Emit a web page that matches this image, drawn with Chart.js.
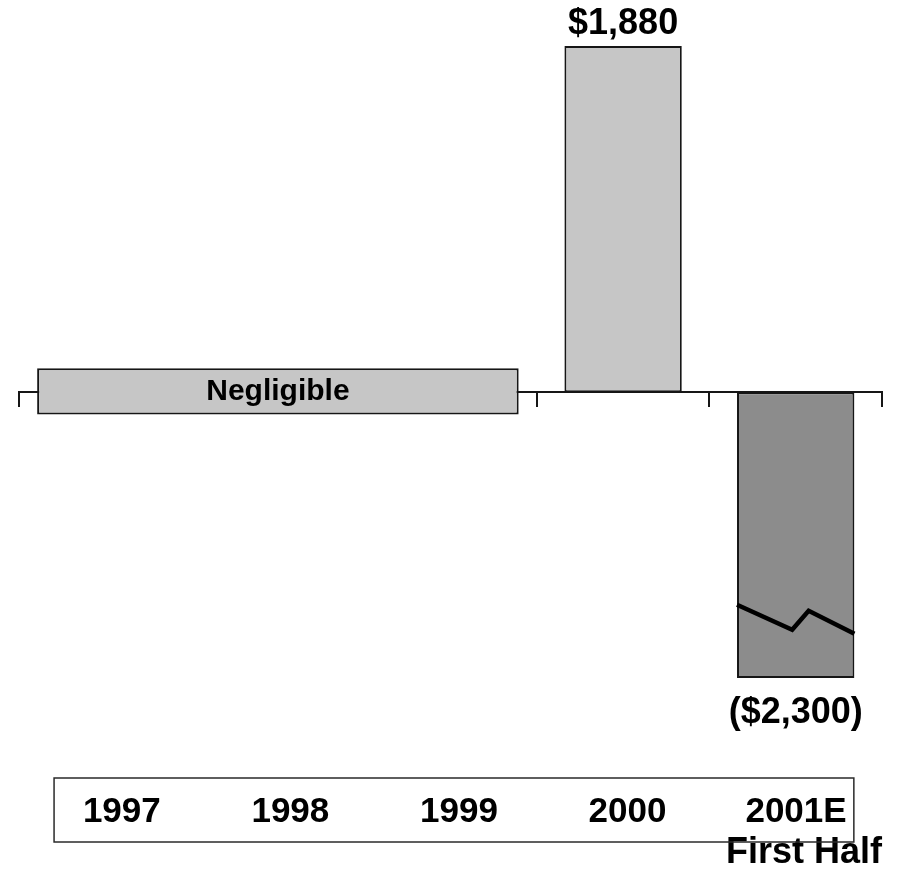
<!DOCTYPE html>
<html>
<head>
<meta charset="utf-8">
<script src="https://cdn.jsdelivr.net/npm/chart.js@4"></script>
<style>
  html, body { margin: 0; padding: 0; background: #fff; }
  canvas { display: block; }
</style>
</head>
<body>
<canvas id="chart" width="898" height="871"></canvas>
<script>
const categories = ['1997', '1998', '1999', '2000', '2001E'];
const netValues = [null, null, null, 1880, -2300];
const valueLabels = [null, null, null, '$1,880', '($2,300)'];
const negligibleRange = [null, [-120, 130], null, null, null]; // one box across 1997-1999
const negligibleText = 'Negligible';
const periodNote = 'First Half';

const FONT = 'Arial, "Liberation Sans", sans-serif';
const LIGHT = '#c6c6c6';
const DARK = '#8c8c8c';
const EDGE = '#161616';

// the value axis is broken below breakValue, the rest is squeezed
const breakValue = -1230;
const breakRatio = 0.3;

function squash(v) {
  if (v === null || v === undefined || isNaN(v)) return v;
  return v < breakValue ? breakValue + (v - breakValue) * breakRatio : v;
}
function unsquash(v) {
  return v < breakValue ? breakValue + (v - breakValue) / breakRatio : v;
}

class BrokenLinearScale extends Chart.LinearScale {
  getPixelForValue(value) {
    return super.getPixelForValue(squash(value));
  }
  getValueForPixel(pixel) {
    return unsquash(super.getValueForPixel(pixel));
  }
}
BrokenLinearScale.id = 'brokenLinear';
BrokenLinearScale.defaults = {};
Chart.register(BrokenLinearScale);

// texts on the bars, the scale break mark and the box round the years
const decorations = {
  id: 'decorations',
  afterDatasetsDraw(chart) {
    const ctx = chart.ctx;
    const yScale = chart.scales.y;
    ctx.save();
    ctx.fillStyle = '#000';
    ctx.textAlign = 'center';
    ctx.textBaseline = 'middle';

    chart.getDatasetMeta(0).data.forEach((bar, i) => {
      if (!negligibleRange[i]) return;
      ctx.font = 'bold 30px ' + FONT;
      ctx.fillText(negligibleText, bar.x, (bar.y + bar.base) / 2);
    });

    chart.getDatasetMeta(1).data.forEach((bar, i) => {
      const v = netValues[i];
      if (v === null) return;
      ctx.font = 'bold 36px ' + FONT;
      if (v >= 0) {
        ctx.fillText(valueLabels[i], bar.x, bar.y - 22);
      } else {
        ctx.fillText(valueLabels[i], bar.x, bar.y + 35);
        if (v < breakValue) {
          // zig-zag break line across the bar
          const yb = yScale.getPixelForValue(breakValue);
          const left = bar.x - bar.width / 2;
          const w = bar.width;
          ctx.beginPath();
          ctx.moveTo(left, yb - 14);
          ctx.lineTo(left + w * 0.47, yb + 11);
          ctx.lineTo(left + w * 0.61, yb - 8);
          ctx.lineTo(left + w, yb + 15);
          ctx.strokeStyle = '#000';
          ctx.lineWidth = 4.5;
          ctx.stroke();
        }
      }
    });
    ctx.restore();
  },
  afterDraw(chart) {
    const x2 = chart.scales.x2;
    const ctx = chart.ctx;
    const left = x2.getPixelForValue(-0.402);
    const right = x2.getPixelForValue(4.343);
    ctx.save();
    ctx.strokeStyle = '#2a2a2a';
    ctx.lineWidth = 1.5;
    ctx.strokeRect(left, x2.top - 17, right - left, 64);
    ctx.restore();
  }
};

const ctx = document.getElementById('chart').getContext('2d');

new Chart(ctx, {
  type: 'bar',
  data: {
    labels: categories,
    datasets: [
      {
        label: negligibleText,
        data: negligibleRange,
        backgroundColor: LIGHT,
        borderColor: EDGE,
        borderWidth: 2,
        borderSkipped: false,
        barPercentage: 2.79,
        categoryPercentage: 1,
        grouped: false
      },
      {
        label: 'Net',
        data: netValues,
        backgroundColor: (c) => (c.raw < 0 ? DARK : LIGHT),
        borderColor: EDGE,
        borderWidth: 2,
        borderSkipped: false,
        barPercentage: 0.68,
        categoryPercentage: 1,
        grouped: false
      }
    ]
  },
  options: {
    responsive: false,
    animation: false,
    devicePixelRatio: 1,
    layout: { padding: { left: 19, right: 16, top: 24, bottom: 0 } },
    plugins: {
      legend: { display: false },
      tooltip: { enabled: false }
    },
    scales: {
      x: {
        type: 'category',
        position: { y: 0 },
        ticks: { display: false },
        grid: {
          display: true,
          offset: true,
          drawOnChartArea: false,
          drawTicks: true,
          tickLength: 14,
          color: EDGE,
          lineWidth: 2
        },
        border: { display: true, color: EDGE, width: 2 }
      },
      x2: {
        type: 'linear',
        position: 'bottom',
        offset: false,
        min: -0.61,
        max: 4.51,
        bounds: 'data',
        grid: { display: false, drawTicks: false, offset: false },
        border: { display: false },
        afterBuildTicks: (scale) => {
          scale.ticks = categories.map((c, i) => ({ value: i }));
        },
        ticks: {
          autoSkip: false,
          maxRotation: 0,
          padding: 0,
          color: '#000',
          font: { family: FONT, size: 35, weight: 'bold', lineHeight: 1 },
          callback: (v) => categories[v] ?? ''
        },
        title: {
          display: true,
          text: periodNote,
          align: 'end',
          color: '#000',
          font: { family: FONT, size: 36, weight: 'bold', lineHeight: 1 },
          padding: { top: 5, bottom: 0 }
        }
      },
      y: {
        type: 'brokenLinear',
        display: false,
        min: squash(-4420),
        max: 2000
      }
    }
  },
  plugins: [decorations]
});
</script>
</body>
</html>
